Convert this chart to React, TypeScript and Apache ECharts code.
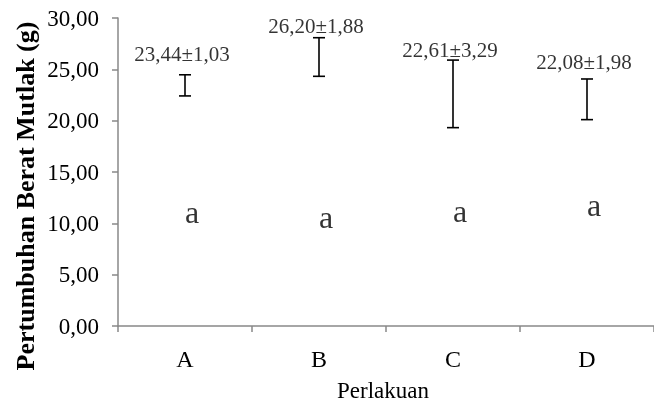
import React, { useEffect, useRef } from "react";
import * as echarts from "echarts";

const categories = ["A", "B", "C", "D"];
const means = [23.44, 26.2, 22.61, 22.08];
const sds = [1.03, 1.88, 3.29, 1.98];
const labelY = [26.5, 29.2, 26.9, 25.7];
const letters = ["a", "a", "a", "a"];
const letterY = [11.1, 10.65, 11.25, 11.75];
const yTicks = [0, 5, 10, 15, 20, 25, 30];

const fmt = (v: number) => v.toFixed(2).replace(".", ",");

export default function App() {
  const ref = useRef<HTMLDivElement>(null);
  useEffect(() => {
    if (!ref.current) return;
    const chart = echarts.init(ref.current, null, { renderer: "svg" });
    const font = "Liberation Serif";
    chart.setOption({
      animation: false,
      textStyle: { fontFamily: font },
      grid: { left: 118, right: -12, top: 18, bottom: 72, containLabel: false },
      xAxis: {
        type: "category",
        data: categories,
        name: "Perlakuan",
        nameLocation: "middle",
        nameGap: 53,
        nameTextStyle: { fontFamily: font, fontSize: 23, color: "#000", padding: [0, 6, 0, 0] },
        axisLine: { lineStyle: { color: "#888", width: 1.5 } },
        axisTick: { show: true, length: 6, lineStyle: { color: "#888", width: 1.5 } },
        axisLabel: { fontFamily: font, fontSize: 24, color: "#000", margin: 21 },
      },
      yAxis: {
        type: "value",
        min: yTicks[0],
        max: yTicks[yTicks.length - 1],
        interval: 5,
        axisLine: { show: true, lineStyle: { color: "#888", width: 1.5 } },
        axisTick: { show: true, length: 6, lineStyle: { color: "#888", width: 1.5 } },
        splitLine: { show: false },
        axisLabel: { fontFamily: font, fontSize: 23, color: "#000", margin: 19, formatter: (v: number) => fmt(v) },
      },
      graphic: [
        {
          type: "text",
          x: 25,
          y: 196,
          rotation: Math.PI / 2,
          style: {
            text: "Pertumbuhan Berat Mutlak (g)",
            font: `bold 26px ${font}`,
            fill: "#000",
            align: "center",
            verticalAlign: "middle",
          },
        },
      ],
      series: [
        {
          type: "custom",
          data: categories.map((c, i) => [i, means[i] - sds[i], means[i] + sds[i]]),
          renderItem: (params: any, api: any) => {
            const x = api.value(0);
            const lo = api.coord([x, api.value(1)]);
            const hi = api.coord([x, api.value(2)]);
            const w = 6;
            const st = { stroke: "#000", lineWidth: 1.6 };
            return {
              type: "group",
              children: [
                { type: "line", shape: { x1: lo[0], y1: lo[1], x2: hi[0], y2: hi[1] }, style: st },
                { type: "line", shape: { x1: lo[0] - w, y1: lo[1], x2: lo[0] + w, y2: lo[1] }, style: st },
                { type: "line", shape: { x1: hi[0] - w, y1: hi[1], x2: hi[0] + w, y2: hi[1] }, style: st },
              ],
            };
          },
          z: 3,
        },
        {
          type: "scatter",
          symbolSize: 0,
          data: categories.map((c, i) => [i, labelY[i]]),
          label: {
            show: true,
            position: "inside",
            offset: [-3, 0],
            fontFamily: font,
            fontSize: 21,
            color: "#000",
            formatter: (p: any) => `${fmt(means[p.dataIndex])}±${fmt(sds[p.dataIndex])}`,
          },
        },
        {
          type: "scatter",
          symbolSize: 0,
          data: categories.map((c, i) => [i, letterY[i]]),
          label: {
            show: true,
            position: "inside",
            offset: [7, 0],
            fontFamily: font,
            fontSize: 32,
            color: "#000",
            formatter: (p: any) => letters[p.dataIndex],
          },
        },
      ],
    });
    return () => chart.dispose();
  }, []);
  return <div ref={ref} style={{ position: "fixed", left: 0, top: 0, width: 654, height: 407 }} />;
}
